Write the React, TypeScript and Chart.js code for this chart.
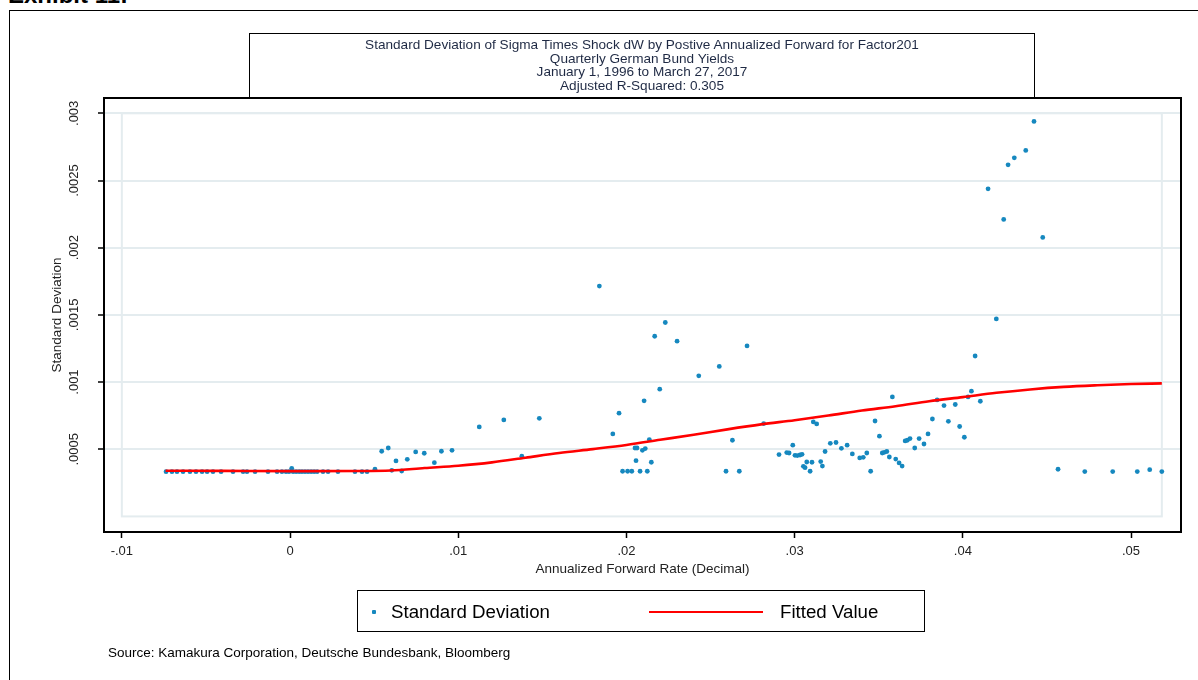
import React, { useEffect, useRef } from 'react';
import { Chart, registerables } from 'chart.js';

Chart.register(...registerables);

const FONT = '"Liberation Sans", Arial, Helvetica, sans-serif';

const titleLines = [
  'Standard Deviation of Sigma Times Shock dW by Postive Annualized Forward for Factor201',
  'Quarterly German Bund Yields',
  'January 1, 1996 to March 27, 2017',
  'Adjusted R-Squared: 0.305',
];
const xAxisTitle = 'Annualized Forward Rate (Decimal)';
const yAxisTitle = 'Standard Deviation';
const legendLabels = ['Standard Deviation', 'Fitted Value'];
const sourceText = 'Source: Kamakura Corporation, Deutsche Bundesbank, Bloomberg';
const exhibitText = 'Exhibit 11:';

const xTicks = [-0.01, 0, 0.01, 0.02, 0.03, 0.04, 0.05];
const yTicks = [0.0005, 0.001, 0.0015, 0.002, 0.0025, 0.003];
const xRange = [-0.01106, 0.05297];
const yRange = [-0.000116, 0.003114];
const boxX = [-0.01, 0.05183];
const boxY = [0, 0.003];

const sdX = [
  -0.00737, -0.00702, -0.00672, -0.00636, -0.00595, -0.00559, -0.00523, -0.00493, -0.00458, -0.0041,
  -0.00339, -0.00279, -0.00256, -0.00208, -0.00131, -0.00077, -0.00048, -0.00024, -0.00006, 0.0001,
  0.00018, 0.00036, 0.00054, 0.00071, 0.00089, 0.00107, 0.00125, 0.00143, 0.00161, 0.00196,
  0.00226, 0.00285, 0.00386, 0.00428, 0.00458, 0.00505, 0.00545, 0.00584, 0.00605, 0.0063,
  0.00664, 0.00697, 0.00747, 0.00798, 0.00858, 0.009, 0.00963, 0.01125, 0.01271, 0.01378,
  0.01482, 0.01839, 0.01919, 0.01956, 0.01977, 0.02007, 0.02032, 0.02051, 0.02057, 0.02063,
  0.02081, 0.02095, 0.02105, 0.02112, 0.02124, 0.02136, 0.02148, 0.02168, 0.02198, 0.02231,
  0.02301, 0.0243, 0.02552, 0.02592, 0.0263, 0.02671, 0.02717, 0.02816, 0.02907, 0.02953,
  0.02967, 0.02989, 0.03002, 0.03016, 0.03032, 0.03044, 0.03052, 0.03062, 0.03072, 0.03092,
  0.03103, 0.03111, 0.03131, 0.03155, 0.03165, 0.03181, 0.03212, 0.03246, 0.03278, 0.03312,
  0.03343, 0.03387, 0.03408, 0.03429, 0.03452, 0.03478, 0.03504, 0.03521, 0.03533, 0.03548,
  0.03563, 0.03581, 0.03601, 0.03621, 0.03639, 0.03657, 0.0367, 0.03686, 0.03714, 0.0374,
  0.03769, 0.03793, 0.03819, 0.03847, 0.03888, 0.03914, 0.03955, 0.03981, 0.04009, 0.04031,
  0.04051, 0.04073, 0.04104, 0.0415, 0.04199, 0.04243, 0.04269, 0.04306, 0.04374, 0.04423,
  0.04475, 0.04566, 0.04725, 0.04891, 0.05037, 0.05111, 0.05183,
];
const sdY = [
  0.000333, 0.000333, 0.000333, 0.000333, 0.000333, 0.000333, 0.000333, 0.000333, 0.000333, 0.000333,
  0.000333, 0.000333, 0.000333, 0.000333, 0.000333, 0.000333, 0.000333, 0.000333, 0.000333, 0.000358,
  0.000333, 0.000333, 0.000333, 0.000333, 0.000333, 0.000333, 0.000333, 0.000333, 0.000333, 0.000333,
  0.000333, 0.000333, 0.000333, 0.000333, 0.000333, 0.000351, 0.000485, 0.000509, 0.000343, 0.000413,
  0.000338, 0.000425, 0.00048, 0.00047, 0.0004, 0.000485, 0.000492, 0.000666, 0.000718, 0.000448,
  0.00073, 0.001714, 0.000614, 0.000768, 0.000336, 0.000336, 0.000336, 0.000509, 0.000415, 0.000509,
  0.000336, 0.000492, 0.00086, 0.000505, 0.000336, 0.000572, 0.000403, 0.001341, 0.000947, 0.001443,
  0.001304, 0.001046, 0.001116, 0.000336, 0.000567, 0.000336, 0.001269, 0.000691, 0.00046, 0.000475,
  0.000472, 0.00053, 0.000455, 0.000453, 0.000457, 0.000462, 0.000373, 0.000363, 0.000405, 0.000336,
  0.000403, 0.000703, 0.000688, 0.000408, 0.000375, 0.000483, 0.000544, 0.00055, 0.000507, 0.00053,
  0.000465, 0.000435, 0.00044, 0.000472, 0.000336, 0.00071, 0.000597, 0.000472, 0.000477, 0.000483,
  0.000442, 0.000889, 0.000427, 0.000398, 0.000375, 0.000562, 0.000567, 0.000579, 0.000509, 0.000579,
  0.000539, 0.000614, 0.000725, 0.000867, 0.000825, 0.000708, 0.000833, 0.000669, 0.000589, 0.000889,
  0.000932, 0.001194, 0.000857, 0.002438, 0.00147, 0.00221, 0.002617, 0.002669, 0.002724, 0.00294,
  0.002076, 0.000351, 0.000334, 0.000334, 0.000334, 0.000348, 0.000334,
];

const fitX = [
  -0.0074, -0.004, 0, 0.004, 0.006, 0.008, 0.01, 0.012, 0.014, 0.016, 0.018, 0.02, 0.022, 0.024,
  0.026, 0.028, 0.03, 0.032, 0.034, 0.036, 0.038, 0.04, 0.042, 0.044, 0.046, 0.048, 0.05, 0.05183,
];
const fitY = [
  0.00034, 0.000339, 0.000337, 0.000338, 0.000342, 0.00036, 0.000377, 0.000402, 0.000437, 0.000472,
  0.000501, 0.000532, 0.00057, 0.000608, 0.000648, 0.000685, 0.000716, 0.000751, 0.000788, 0.00082,
  0.000857, 0.000888, 0.00092, 0.000945, 0.000964, 0.000976, 0.000985, 0.00099,
];

const fmtStata = (v: number) => {
  if (Math.abs(v) < 1e-12) return '0';
  const s = parseFloat(v.toPrecision(6)).toString();
  return s.replace(/^(-?)0\./, '$1.');
};

const framePlugin = {
  id: 'stataFrame',
  beforeDatasetsDraw(chart: any) {
    const { ctx, scales } = chart;
    const x = scales.x;
    const y = scales.y;
    const l = x.getPixelForValue(boxX[0]);
    const r = x.getPixelForValue(boxX[1]);
    const t = y.getPixelForValue(boxY[1]);
    const b = y.getPixelForValue(boxY[0]);
    ctx.save();
    ctx.strokeStyle = '#e4ecef';
    ctx.lineWidth = 2;
    ctx.strokeRect(l, t, r - l, b - t);
    ctx.restore();
  },
  afterDraw(chart: any) {
    const { ctx, chartArea } = chart;
    ctx.save();
    ctx.strokeStyle = '#000';
    ctx.lineWidth = 2;
    ctx.strokeRect(chartArea.left, chartArea.top, chartArea.right - chartArea.left, chartArea.bottom - chartArea.top);
    ctx.restore();
  },
};

function ChartCanvas() {
  const ref = useRef<HTMLCanvasElement | null>(null);
  useEffect(() => {
    if (!ref.current) return;
    const chart = new Chart(ref.current, {
      type: 'scatter',
      data: {
        datasets: [
          {
            type: 'line',
            label: legendLabels[1],
            data: fitX.map((x, i) => ({ x, y: fitY[i] })),
            borderColor: '#ff0000',
            borderWidth: 2.6,
            pointRadius: 0,
            cubicInterpolationMode: 'monotone',
            fill: false,
          } as any,
          {
            type: 'scatter',
            label: legendLabels[0],
            data: sdX.map((x, i) => ({ x, y: sdY[i] })),
            backgroundColor: '#1688bf',
            borderWidth: 0,
            pointRadius: 2.4,
          },
        ],
      },
      options: {
        responsive: false,
        animation: false,
        events: [],
        layout: { padding: { top: 98, right: 17, left: 0, bottom: 0 } },
        plugins: { legend: { display: false }, tooltip: { enabled: false }, title: { display: false } },
        scales: {
          x: {
            type: 'linear',
            position: 'bottom',
            min: xRange[0],
            max: xRange[1],
            afterBuildTicks: (s: any) => { s.ticks = xTicks.map((v) => ({ value: v })); },
            afterFit: (s: any) => { s.height = 148; },
            border: { display: false },
            grid: { drawOnChartArea: false, drawTicks: true, tickLength: 6, tickColor: '#000', tickWidth: 1.5 },
            ticks: { color: '#222', font: { family: FONT, size: 13 }, padding: 6, maxRotation: 0, minRotation: 0, callback: (v: any) => fmtStata(Number(v)) },
            title: { display: true, text: xAxisTitle, color: '#222', font: { family: FONT, size: 13.5 }, padding: { top: 0, bottom: 103 } },
          },
          y: {
            type: 'linear',
            position: 'left',
            min: yRange[0],
            max: yRange[1],
            afterBuildTicks: (s: any) => { s.ticks = yTicks.map((v) => ({ value: v })); },
            afterFit: (s: any) => { s.width = 104; },
            border: { display: false },
            grid: { color: '#e4ecef', lineWidth: 2, drawTicks: true, tickLength: 6, tickColor: '#000', tickWidth: 1.5 },
            ticks: { color: '#222', font: { family: FONT, size: 13 }, padding: 7.5, minRotation: 90, maxRotation: 90, crossAlign: 'center', callback: (v: any) => fmtStata(Number(v)) },
            title: { display: true, text: yAxisTitle, color: '#222', font: { family: FONT, size: 13.5 }, padding: { top: 49, bottom: 0 } },
          },
        },
      } as any,
      plugins: [framePlugin],
    });
    return () => chart.destroy();
  }, []);
  return <canvas ref={ref} width={1198} height={680} style={{ position: 'absolute', left: 0, top: 0, width: 1198, height: 680 }} />;
}

export default function App() {
  return (
    <div style={{ position: 'absolute', left: 0, top: 0, width: 1198, height: 680, overflow: 'hidden', background: '#fff', fontFamily: FONT }}>
      <div style={{ position: 'absolute', left: 8, top: -19, fontSize: 24, fontWeight: 'bold', color: '#000', whiteSpace: 'nowrap', lineHeight: '28px' }}>{exhibitText}</div>
      <div style={{ position: 'absolute', left: 9, top: 10, width: 1300, height: 700, borderTop: '1.5px solid #000', borderLeft: '1.5px solid #000' }} />
      <ChartCanvas />
      <div style={{ position: 'absolute', left: 249, top: 33, width: 786, height: 65, border: '1.5px solid #000', borderBottom: 'none', textAlign: 'center', color: '#1f2a44', fontSize: 13.6, lineHeight: '13.7px', paddingTop: 4, boxSizing: 'border-box', whiteSpace: 'nowrap' }}>
        {titleLines.map((t, i) => (<div key={i}>{t}</div>))}
      </div>
      <div style={{ position: 'absolute', left: 357, top: 590, width: 568, height: 42, border: '1.5px solid #000', boxSizing: 'border-box' }}>
        <div style={{ position: 'absolute', left: 14, top: 19, width: 4, height: 4, background: '#1688bf', borderRadius: 1 }} />
        <div style={{ position: 'absolute', left: 33, top: 10, fontSize: 18.7, lineHeight: '22px', color: '#000', whiteSpace: 'nowrap' }}>{legendLabels[0]}</div>
        <div style={{ position: 'absolute', left: 291, top: 19.5, width: 114, height: 2.6, background: '#ff0000' }} />
        <div style={{ position: 'absolute', left: 422, top: 10, fontSize: 18.7, lineHeight: '22px', color: '#000', whiteSpace: 'nowrap' }}>{legendLabels[1]}</div>
      </div>
      <div style={{ position: 'absolute', left: 108, top: 645, fontSize: 13.5, lineHeight: '15px', color: '#000', whiteSpace: 'nowrap' }}>{sourceText}</div>
    </div>
  );
}
